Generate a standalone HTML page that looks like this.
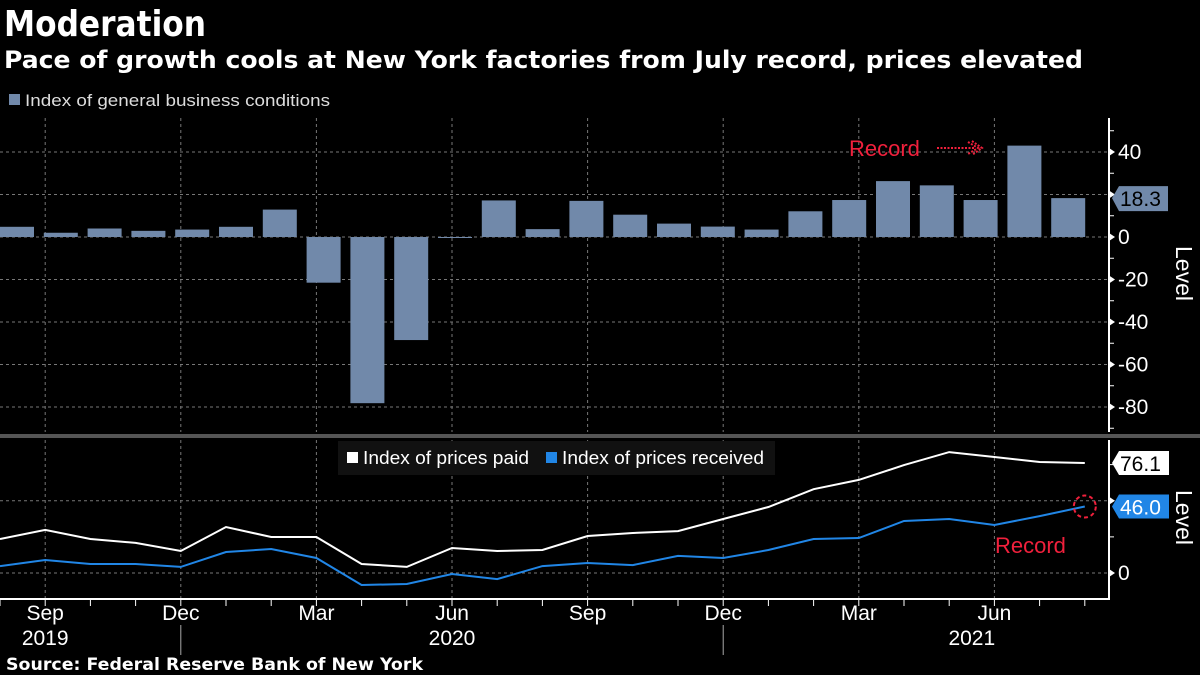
<!DOCTYPE html>
<html><head><meta charset="utf-8">
<style>
html,body{margin:0;padding:0;background:#000;}
svg{display:block;}
text{font-family:"Liberation Sans",sans-serif;}
.b{font-family:"DejaVu Sans","Liberation Sans",sans-serif;font-weight:bold;fill:#fff;}
</style></head>
<body>
<svg id="c" width="1200" height="675" viewBox="0 0 1200 675" xmlns="http://www.w3.org/2000/svg">
<rect width="1200" height="675" fill="#000"/>
<text class="b" x="4" y="36" font-size="36" textLength="202" lengthAdjust="spacingAndGlyphs">Moderation</text>
<text class="b" x="4" y="68" font-size="24" textLength="1079" lengthAdjust="spacingAndGlyphs">Pace of growth cools at New York factories from July record, prices elevated</text>
<g>
<rect x="9" y="94" width="11" height="11" fill="#7189aa"/>
<text x="25" y="106" font-size="17" fill="#ddd" textLength="305" lengthAdjust="spacingAndGlyphs">Index of general business conditions</text>
</g>
<g id="topPanel"></g>
<rect x="0" y="434" width="1200" height="4" fill="#555"/>
<g id="botPanel"></g>
<g>
<rect x="338" y="441" width="437" height="34" fill="#111"/>
<rect x="347" y="452" width="11" height="11" fill="#fff"/>
<text x="363" y="464" font-size="18" fill="#fff" textLength="166" lengthAdjust="spacingAndGlyphs">Index of prices paid</text>
<rect x="546" y="452" width="11" height="11" fill="#2186e6"/>
<text x="562" y="464" font-size="18" fill="#fff" textLength="202" lengthAdjust="spacingAndGlyphs">Index of prices received</text>
</g>
<text class="b" x="6" y="670" font-size="17" textLength="417" lengthAdjust="spacingAndGlyphs">Source: Federal Reserve Bank of New York</text>
</svg>
<script>
const NS="http://www.w3.org/2000/svg";
const business=[4.8,2.0,4.0,2.9,3.5,4.8,12.9,-21.5,-78.2,-48.5,-0.2,17.2,3.7,17.0,10.5,6.3,4.9,3.5,12.1,17.4,26.3,24.3,17.4,43.0,18.3];
const paid=[23.5,29.8,23.5,20.8,15.2,31.8,24.9,24.9,6.2,4.2,17.3,15.2,15.9,25.6,27.7,29.0,37.4,45.7,58.0,64.4,74.7,83.7,80.3,76.8,76.1];
const received=[4.8,9.0,6.2,6.2,4.2,14.5,16.6,10.4,-8.3,-7.6,-0.7,-4.2,4.8,6.9,5.5,11.8,10.4,15.9,23.5,24.2,36.0,37.4,33.2,39.4,46.0];
const topTicks=[40,20,0,-20,-40,-60,-80];
const topLabels=["40","","0","-20","-40","-60","-80"];
const botTicks=[0,50];
const botLabels=["0",""];
const monthLabels=[[1,"Sep"],[4,"Dec"],[7,"Mar"],[10,"Jun"],[13,"Sep"],[16,"Dec"],[19,"Mar"],[22,"Jun"]];
const yearLabels=[[1,"2019"],[10,"2020"],[21.5,"2021"]];

const AX=1109;
const xBar=i=>17+43.8*i;
const xLine=i=>45.2*i;
const yTop=v=>237-v*2.125;
const yBot=v=>573-v*1.445;
function mk(tag,attrs,parent){const e=document.createElementNS(NS,tag);for(const k in attrs)e.setAttribute(k,attrs[k]);parent.appendChild(e);return e;}
const tp=document.getElementById('topPanel');
const bp=document.getElementById('botPanel');

monthLabels.forEach(m=>{
 const x=xLine(m[0]);
 let g=mk('line',{x1:x,x2:x,y1:118,y2:432,stroke:'#777','stroke-dasharray':'3,3','stroke-width':1},tp);
 
 
 g=mk('line',{x1:x,x2:x,y1:440,y2:599,stroke:'#777','stroke-dasharray':'3,3','stroke-width':1},bp);
 
 
});
topTicks.forEach((t,i)=>{
 const y=yTop(t);
 let g=mk('line',{x1:0,x2:AX,y1:y,y2:y,stroke:'#777','stroke-dasharray':'3,3'},tp);
 
 
 let tk=mk('path',{d:`M${AX} ${y-4}L${AX+6} ${y}L${AX} ${y+4}Z`,fill:'#fff'},tp);
 
 
 if(topLabels[i]){let tx=mk('text',{x:AX+9,y:y+7,'font-size':21,fill:'#fff'},tp);tx.textContent=topLabels[i];
 
 }
});
for(let v=-90;v<=50;v+=10){const y=yTop(v);let m=mk('line',{x1:AX,x2:AX+5,y1:y,y2:y,stroke:'#fff'},tp);
 
 }
business.forEach((v,i)=>{
 const y0=yTop(0),y1=yTop(v);
 const r=mk('rect',{x:xBar(i)-17,width:34,y:Math.min(y0,y1),height:Math.max(1,Math.abs(y1-y0)),fill:'#7189aa'},tp);
 
 
});
let ax=mk('line',{x1:AX,x2:AX,y1:118,y2:432,stroke:'#fff','stroke-width':2},tp);


const lv=business[business.length-1],ly=yTop(lv);
let tg=mk('path',{d:`M${AX+3} ${ly}L${AX+10} ${ly-12}H1168V${ly+13}H${AX+10}Z`,fill:'#7189aa'},tp);


let tt=mk('text',{x:1120,y:ly+8,'font-size':21,fill:'#000'},tp);tt.textContent=lv.toFixed(1);


let rt=mk('text',{x:849,y:156,'font-size':22,fill:'#f0203c'},tp);rt.textContent='Record';


let ar=mk('path',{d:'M937 148H975M968 142L978 148L968 154M972 141L982 148L972 155',stroke:'#f0203c','stroke-width':2,'stroke-dasharray':'2,1.5',fill:'none'},tp);


let lvl=mk('text',{x:0,y:0,'font-size':23,fill:'#fff',transform:'translate(1176,246) rotate(90)'},tp);lvl.textContent='Level';



botTicks.forEach((t,i)=>{const y=yBot(t);
 let g=mk('line',{x1:0,x2:AX,y1:y,y2:y,stroke:'#777','stroke-dasharray':'3,3'},bp);
 
 
 let tk=mk('path',{d:`M${AX} ${y-4}L${AX+6} ${y}L${AX} ${y+4}Z`,fill:'#fff'},bp);
 
 
 if(botLabels[i]){let tx=mk('text',{x:AX+9,y:y+7,'font-size':21,fill:'#fff'},bp);tx.textContent=botLabels[i];
 
 }
});
[25,75].forEach(v=>{const y=yBot(v);let m=mk('line',{x1:AX,x2:AX+5,y1:y,y2:y,stroke:'#fff'},bp);
 
 });
function line(arr,col,name){
 const d=arr.map((v,i)=>(i?'L':'M')+xLine(i).toFixed(1)+' '+yBot(v).toFixed(1)).join('');
 const p=mk('path',{d:d,stroke:col,'stroke-width':2,fill:'none'},bp);
 
 
}
line(paid,'#fff','line-prices-paid');
line(received,'#2186e6','line-prices-received');
let bax=mk('path',{d:`M${AX} 440V599H0`,stroke:'#fff','stroke-width':2,fill:'none'},bp);


for(let i=0;i<paid.length;i++){const x=xLine(i);let m=mk('line',{x1:x,x2:x,y1:599,y2:606,stroke:'#fff'},bp);
 
 }
monthLabels.forEach(m=>{let t=mk('text',{x:xLine(m[0]),y:620,'font-size':21,fill:'#fff','text-anchor':'middle'},bp);t.textContent=m[1];
 
 });
yearLabels.forEach(m=>{let t=mk('text',{x:xLine(m[0]),y:645,'font-size':21,fill:'#fff','text-anchor':'middle'},bp);t.textContent=m[1];
 
 });
[4,16].forEach(i=>{let s=mk('line',{x1:xLine(i),x2:xLine(i),y1:625,y2:655,stroke:'#aaa'},bp);
 
 });
function tag(v,bg,fg,name){const y=yBot(v);
 let p=mk('path',{d:`M${AX+3} ${y}L${AX+10} ${y-12}H1169V${y+12}H${AX+10}Z`,fill:bg},bp);
 
 
 let t=mk('text',{x:1120,y:y+8,'font-size':21,fill:fg},bp);t.textContent=v.toFixed(1);
 
 }
tag(paid[paid.length-1],'#fff','#000','last-value-paid');
tag(received[received.length-1],'#2186e6','#fff','last-value-received');
let ci=mk('circle',{cx:xLine(received.length-1),cy:yBot(received[received.length-1]),r:11,stroke:'#f0203c','stroke-width':2,'stroke-dasharray':'4,3',fill:'none'},bp);


let rb=mk('text',{x:995,y:553,'font-size':22,fill:'#f0203c'},bp);rb.textContent='Record';


let lv2=mk('text',{x:0,y:0,'font-size':23,fill:'#fff',transform:'translate(1176,490) rotate(90)'},bp);lv2.textContent='Level';


</script>
</body></html>
